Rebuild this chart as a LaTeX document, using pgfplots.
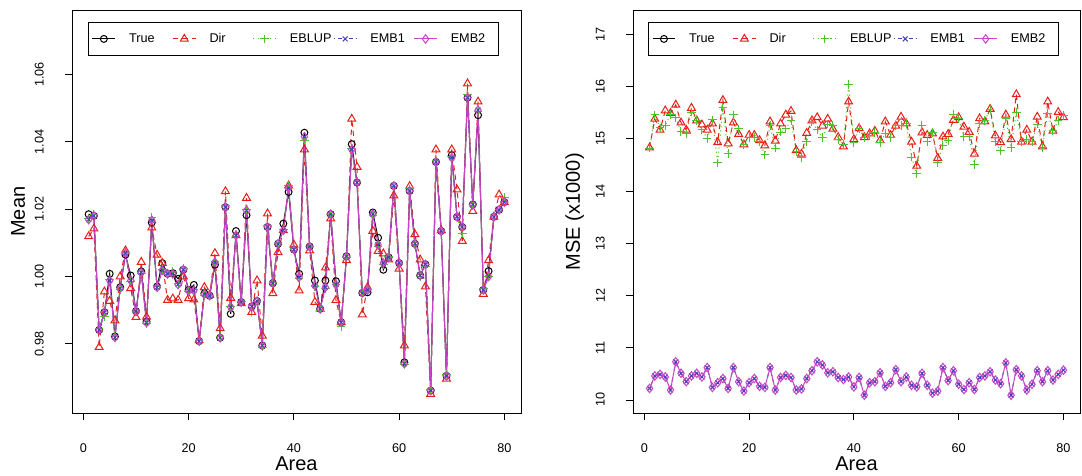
\documentclass[border=0pt]{standalone}
\usepackage{fontspec}
\setmainfont{Liberation Sans}
\usepackage{pgfplots}
\usepackage{pgfplotstable}
\pgfplotsset{compat=1.18}

\definecolor{rred}{RGB}{230,30,25}
\definecolor{rgreen}{RGB}{76,195,40}
\definecolor{rblue}{RGB}{65,65,190}
\definecolor{rmag}{RGB}{200,70,195}

% area true dir eblup emb1 emb2
\pgfplotstableread{
a t d e m1 m2
1 1.0185 1.0119 1.0172 1.0169 1.0169
2 1.0180 1.0142 1.0185 1.0180 1.0180
3 0.9841 0.9790 0.9845 0.9841 0.9841
4 0.9894 0.9955 0.9880 0.9894 0.9894
5 1.0008 0.9927 0.9990 0.9988 0.9988
6 0.9822 0.9869 0.9825 0.9819 0.9819
7 0.9968 1.0000 0.9962 0.9965 0.9965
8 1.0065 1.0077 1.0072 1.0069 1.0069
9 1.0003 0.9965 0.9985 0.9988 0.9988
10 0.9897 0.9879 0.9895 0.9897 0.9897
11 1.0015 1.0043 1.0010 1.0012 1.0012
12 0.9866 0.9880 0.9860 0.9863 0.9863
13 1.0160 1.0145 1.0175 1.0167 1.0167
14 0.9970 1.0064 0.9970 0.9968 0.9968
15 1.0040 1.0040 1.0020 1.0018 1.0018
16 1.0008 0.9930 1.0005 1.0008 1.0008
17 1.0010 0.9934 1.0015 1.0008 1.0008
18 0.9993 0.9930 0.9978 0.9976 0.9976
19 1.0020 1.0000 1.0025 1.0020 1.0020
20 0.9960 0.9935 0.9955 0.9958 0.9958
21 0.9975 0.9931 0.9960 0.9958 0.9958
22 0.9808 0.9810 0.9810 0.9808 0.9808
23 0.9950 0.9968 0.9945 0.9948 0.9948
24 0.9943 0.9945 0.9945 0.9943 0.9943
25 1.0035 1.0069 1.0045 1.0042 1.0042
26 0.9818 0.9846 0.9822 0.9818 0.9818
27 1.0206 1.0253 1.0210 1.0206 1.0206
28 0.9889 0.9936 0.9912 0.9909 0.9909
29 1.0135 1.0122 1.0120 1.0122 1.0122
30 0.9924 0.9920 0.9925 0.9924 0.9924
31 1.0182 1.0233 1.0198 1.0196 1.0196
32 0.9911 0.9894 0.9913 0.9911 0.9911
33 0.9927 0.9988 0.9925 0.9927 0.9927
34 0.9795 0.9824 0.9790 0.9795 0.9795
35 1.0147 1.0187 1.0150 1.0147 1.0147
36 0.9980 0.9950 0.9982 0.9980 0.9980
37 1.0097 1.0072 1.0097 1.0097 1.0097
38 1.0157 1.0137 1.0140 1.0137 1.0137
39 1.0251 1.0270 1.0270 1.0263 1.0263
40 1.0080 1.0094 1.0082 1.0080 1.0080
41 1.0008 0.9958 0.9995 0.9998 0.9998
42 1.0427 1.0377 1.0405 1.0415 1.0415
43 1.0089 1.0077 1.0090 1.0089 1.0089
44 0.9988 0.9924 0.9970 0.9973 0.9973
45 0.9904 0.9904 0.9900 0.9904 0.9904
46 0.9988 1.0026 0.9965 0.9968 0.9968
47 1.0185 1.0172 1.0183 1.0185 1.0185
48 0.9986 0.9930 0.9975 0.9976 0.9976
49 0.9864 0.9864 0.9850 0.9864 0.9864
50 1.0060 1.0048 1.0055 1.0060 1.0060
51 1.0393 1.0468 1.0380 1.0377 1.0377
52 1.0279 1.0325 1.0282 1.0279 1.0279
53 0.9951 0.9887 0.9952 0.9951 0.9951
54 0.9953 0.9968 0.9962 0.9960 0.9960
55 1.0190 1.0135 1.0180 1.0185 1.0185
56 1.0115 1.0075 1.0090 1.0094 1.0094
57 1.0020 1.0068 1.0035 1.0040 1.0040
58 1.0057 1.0050 1.0060 1.0057 1.0057
59 1.0269 1.0240 1.0268 1.0269 1.0269
60 1.0040 1.0023 1.0038 1.0040 1.0040
61 0.9745 0.9795 0.9740 0.9741 0.9741
62 1.0254 1.0268 1.0260 1.0254 1.0254
63 1.0097 1.0125 1.0095 1.0097 1.0097
64 1.0003 1.0050 1.0000 1.0003 1.0003
65 1.0036 0.9970 1.0030 1.0036 1.0036
66 0.9661 0.9651 0.9665 0.9661 0.9661
67 1.0340 1.0377 1.0345 1.0340 1.0340
68 1.0135 1.0137 1.0135 1.0135 1.0135
69 0.9705 0.9696 0.9710 0.9705 0.9705
70 1.0360 1.0377 1.0355 1.0353 1.0353
71 1.0177 1.0258 1.0175 1.0177 1.0177
72 1.0147 1.0105 1.0129 1.0147 1.0147
73 1.0531 1.0573 1.0540 1.0531 1.0531
74 1.0214 1.0194 1.0210 1.0214 1.0214
75 1.0479 1.0519 1.0490 1.0494 1.0494
76 0.9960 0.9948 0.9965 0.9960 0.9960
77 1.0016 1.0048 1.0000 1.0000 1.0000
78 1.0177 1.0177 1.0180 1.0177 1.0177
79 1.0198 1.0243 1.0200 1.0198 1.0198
80 1.0221 1.0220 1.0235 1.0221 1.0221
}\leftdata

% area dir eblup emb1 emb2
\pgfplotstableread{
a d e m1 m2
1 14.83 14.82 10.22 10.22
2 15.38 15.46 10.46 10.46
3 15.17 15.21 10.49 10.49
4 15.54 15.25 10.44 10.44
5 15.49 15.47 10.19 10.19
6 15.65 15.40 10.73 10.73
7 15.31 15.14 10.51 10.51
8 15.17 15.10 10.35 10.35
9 15.59 15.51 10.46 10.46
10 15.35 15.35 10.51 10.51
11 15.27 15.17 10.44 10.44
12 15.17 15.01 10.62 10.62
13 15.29 15.36 10.24 10.24
14 14.93 14.54 10.33 10.33
15 15.74 15.60 10.41 10.41
16 14.91 14.72 10.22 10.22
17 15.31 15.46 10.62 10.62
18 15.09 15.19 10.35 10.35
19 14.89 14.89 10.17 10.17
20 15.07 15.03 10.33 10.33
21 15.07 15.03 10.41 10.41
22 14.97 14.95 10.26 10.26
23 14.87 14.69 10.24 10.24
24 15.33 15.25 10.62 10.62
25 14.96 14.82 10.19 10.19
26 15.29 15.13 10.43 10.43
27 15.46 15.19 10.47 10.47
28 15.53 15.35 10.43 10.43
29 14.78 14.75 10.19 10.19
30 14.71 14.64 10.21 10.21
31 15.11 14.94 10.41 10.41
32 15.35 15.33 10.56 10.56
33 15.41 15.17 10.73 10.73
34 15.25 15.03 10.67 10.67
35 15.38 15.28 10.52 10.52
36 15.19 15.25 10.54 10.54
37 15.03 14.99 10.43 10.43
38 14.85 14.90 10.39 10.39
39 15.71 16.04 10.44 10.44
40 14.99 14.93 10.25 10.25
41 15.20 15.20 10.43 10.43
42 15.03 15.03 10.09 10.09
43 15.10 15.06 10.33 10.33
44 15.15 15.12 10.35 10.35
45 14.97 14.93 10.52 10.52
46 15.33 15.10 10.26 10.26
47 15.07 15.03 10.33 10.33
48 15.25 15.25 10.58 10.58
49 15.42 15.25 10.35 10.35
50 15.29 15.29 10.44 10.44
51 14.94 14.65 10.28 10.28
52 14.48 14.33 10.25 10.25
53 15.12 15.25 10.51 10.51
54 15.07 14.95 10.28 10.28
55 15.10 15.12 10.13 10.13
56 14.63 14.54 10.17 10.17
57 15.04 14.87 10.62 10.62
58 15.09 14.96 10.37 10.37
59 15.36 15.47 10.56 10.56
60 15.41 15.38 10.30 10.30
61 15.23 15.04 10.20 10.20
62 15.13 15.04 10.33 10.33
63 14.71 14.51 10.20 10.20
64 15.39 15.29 10.43 10.43
65 15.33 15.35 10.46 10.46
66 15.57 15.57 10.54 10.54
67 15.06 14.94 10.38 10.38
68 14.93 14.77 10.31 10.31
69 15.46 15.39 10.71 10.71
70 14.99 14.83 10.09 10.09
71 15.85 15.51 10.58 10.58
72 14.94 14.94 10.46 10.46
73 15.17 14.99 10.19 10.19
74 14.94 14.94 10.30 10.30
75 15.42 15.28 10.56 10.56
76 14.85 14.83 10.35 10.35
77 15.71 15.49 10.56 10.56
78 15.15 15.15 10.38 10.38
79 15.51 15.35 10.49 10.49
80 15.41 15.45 10.57 10.57
}\rightdata

\pgfplotsset{
  rstyle/.style={
    scale only axis,
    height=302pt,
    xmin=-2.16, xmax=83.16,
    xtick={0,20,40,60,80},
    tick align=outside, xtick pos=bottom, ytick pos=left,
    major tick length=5pt,
    tick style={black, line width=0.6pt},
    axis line style={line width=0.6pt},
    tick label style={font=\fontsize{9.5}{11}\selectfont},
    /pgf/number format/assume math mode=true,
    xticklabel style={anchor=center, yshift=-21pt},
    yticklabel style={xshift=-19.5pt, rotate=90, anchor=center},
    every axis x label/.style={at={(axis description cs:0.5,-0.126)}, anchor=center, font=\fontsize{15}{17}\selectfont},
    legend columns=5,
    legend cell align=left,
    legend style={anchor=north west, draw=black, font=\fontsize{9.5}{11}\selectfont,
      inner xsep=2.8pt, inner ysep=8pt, nodes={inner sep=0pt},
      /tikz/every odd column/.style={column sep=10pt},
      /tikz/every even column/.style={column sep=0pt}},
  },
  sTrue/.style={black, line width=0.75pt, mark=o, mark size=2.6pt, mark options={solid}},
  sDir/.style={rred, line width=0.75pt, dash pattern=on 4pt off 3pt, mark=triangle, mark size=3.4pt, mark options={solid}},
  sEB/.style={rgreen, line width=0.75pt, dash pattern=on 0.8pt off 2.4pt, mark=+, mark size=3.2pt, mark options={solid}},
  sM1/.style={rblue, line width=0.75pt, dash pattern=on 0.8pt off 2.2pt on 3pt off 2.2pt, mark=x, mark size=2.6pt, mark options={solid}},
  sM2/.style={rmag, line width=0.75pt, mark=diamond, mark size=3.2pt, mark options={solid}},
}

\newcommand{\lb}[1]{\makebox[32.5pt][l]{#1}}

\begin{document}
\begin{tikzpicture}
\useasboundingbox (0,0) rectangle (811.5pt,356.25pt);

\begin{axis}[rstyle,
  at={(54pt,46.5pt)}, anchor=south west,
  width=336.75pt,
  ymin=0.95946, ymax=1.07904,
  ytick={0.98,1.00,1.02,1.04,1.06},
  yticklabel style={/pgf/number format/.cd, fixed, fixed zerofill, precision=2},
  xlabel={Area}, ylabel={Mean},
  every axis y label/.style={at={(axis description cs:-0.1203,0.5)}, rotate=90, anchor=center, font=\fontsize{15}{17}\selectfont},
  legend style={at={(rel axis cs:0.0356,0.97)}},
]
\addplot[sTrue] table[x=a,y=t]{\leftdata};
\addlegendentry{\lb{True}}
\addplot[sDir] table[x=a,y=d]{\leftdata};
\addlegendentry{\lb{Dir}}
\addplot[sEB] table[x=a,y=e]{\leftdata};
\addlegendentry{\lb{EBLUP}}
\addplot[sM1] table[x=a,y=m1]{\leftdata};
\addlegendentry{\lb{EMB1}}
\addplot[sM2] table[x=a,y=m2]{\leftdata};
\addlegendentry{\lb{EMB2}}
\end{axis}

\begin{axis}[rstyle,
  at={(474.75pt,46.5pt)}, anchor=south west,
  width=335.25pt,
  ymin=9.75, ymax=17.46,
  ytick={10,11,12,13,14,15,16,17},
  xlabel={Area}, ylabel={MSE (x1000)},
  every axis y label/.style={at={(axis description cs:-0.1303,0.5)}, rotate=90, anchor=center, font=\fontsize{15}{17}\selectfont},
  legend style={at={(rel axis cs:0.0337,0.97)}},
]
\addlegendimage{sTrue}
\addlegendentry{\lb{True}}
\addplot[sDir] table[x=a,y=d]{\rightdata};
\addlegendentry{\lb{Dir}}
\addplot[sEB] table[x=a,y=e]{\rightdata};
\addlegendentry{\lb{EBLUP}}
\addplot[sM1] table[x=a,y=m1]{\rightdata};
\addlegendentry{\lb{EMB1}}
\addplot[sM2] table[x=a,y=m2]{\rightdata};
\addlegendentry{\lb{EMB2}}
\end{axis}
\end{tikzpicture}
\end{document}
